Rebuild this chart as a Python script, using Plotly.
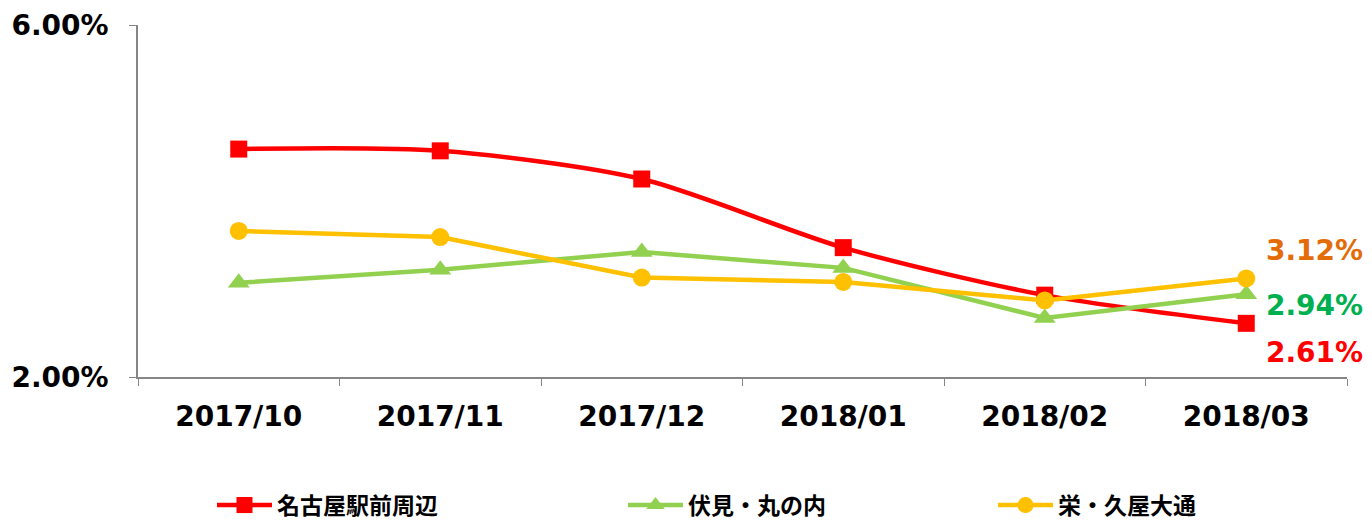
import plotly.graph_objects as go

months = ["2017/10", "2017/11", "2017/12", "2018/01", "2018/02", "2018/03"]
nagoya = [4.59, 4.57, 4.25, 3.47, 2.93, 2.61]
fushimi = [3.07, 3.22, 3.42, 3.24, 2.67, 2.94]
sakae = [3.66, 3.59, 3.13, 3.08, 2.87, 3.12]
names = ["名古屋駅前周辺", "伏見・丸の内", "栄・久屋大通"]
label_texts = ["2.61%", "2.94%", "3.12%"]

FONT = "DejaVu Sans"
CJK = "Noto Sans CJK JP"

fig = go.Figure()
fig.add_trace(go.Scatter(
    x=months, y=nagoya, name=names[0], mode="lines+markers",
    line=dict(color="#FF0000", width=4.5, shape="spline", smoothing=0.8),
    marker=dict(symbol="square", size=17, color="#FF0000"),
    legend="legend", cliponaxis=False))
fig.add_trace(go.Scatter(
    x=months, y=fushimi, name=names[1], mode="lines+markers",
    line=dict(color="#92D050", width=4.5),
    marker=dict(symbol="triangle-up", size=19, color="#92D050"),
    legend="legend2", cliponaxis=False))
fig.add_trace(go.Scatter(
    x=months, y=sakae, name=names[2], mode="lines+markers",
    line=dict(color="#FFC000", width=4.5),
    marker=dict(symbol="circle", size=18, color="#FFC000"),
    legend="legend3", cliponaxis=False))

label_colors = ["#FF0000", "#00B050", "#E36C09"]
label_vals = [nagoya[-1], fushimi[-1], sakae[-1]]
label_yshift = [-29, -11, 28]
for t, v, c, ys in zip(label_texts, label_vals, label_colors, label_yshift):
    fig.add_annotation(x=months[-1], y=v, text=t, showarrow=False,
                       xshift=68, yshift=ys,
                       font=dict(family=FONT, size=28, color=c, weight="bold"))

leg_common = dict(orientation="h", yanchor="middle", y=-0.364, xanchor="left",
                  font=dict(family=CJK, size=23, color="#000000", weight="bold"),
                  bgcolor="rgba(0,0,0,0)", itemwidth=55)
fig.update_layout(
    width=1372, height=521, autosize=False,
    margin=dict(l=138, r=25, t=25, b=144, autoexpand=False),
    plot_bgcolor="white", paper_bgcolor="white",
    showlegend=True,
    legend=dict(x=(212 - 138) / 1209, **leg_common),
    legend2=dict(x=(623 - 138) / 1209, **leg_common),
    legend3=dict(x=(993 - 138) / 1209, **leg_common),
    xaxis=dict(type="category", range=[-0.5, 5.5], showline=True, automargin=False,
               linecolor="#868686", linewidth=1.5, ticks="outside",
               tickson="boundaries", ticklen=7, tickcolor="#868686",
               showgrid=False, zeroline=False, ticklabelstandoff=14,
               tickfont=dict(family=FONT, size=28, color="#000000", weight="bold")),
    yaxis=dict(range=[2, 6], tickvals=[2, 6], ticktext=["2.00%", "6.00%"],
               showline=True, linecolor="#868686", linewidth=1.5, automargin=False,
               ticks="outside", ticklen=7, tickcolor="#868686",
               showgrid=False, zeroline=False, ticklabelstandoff=15,
               tickfont=dict(family=FONT, size=28, color="#000000", weight="bold")),
)

fig.write_html("out.html", config={"responsive": False, "displayModeBar": False},
               post_script="document.body.style.margin='0';document.body.style.overflow='hidden';")
